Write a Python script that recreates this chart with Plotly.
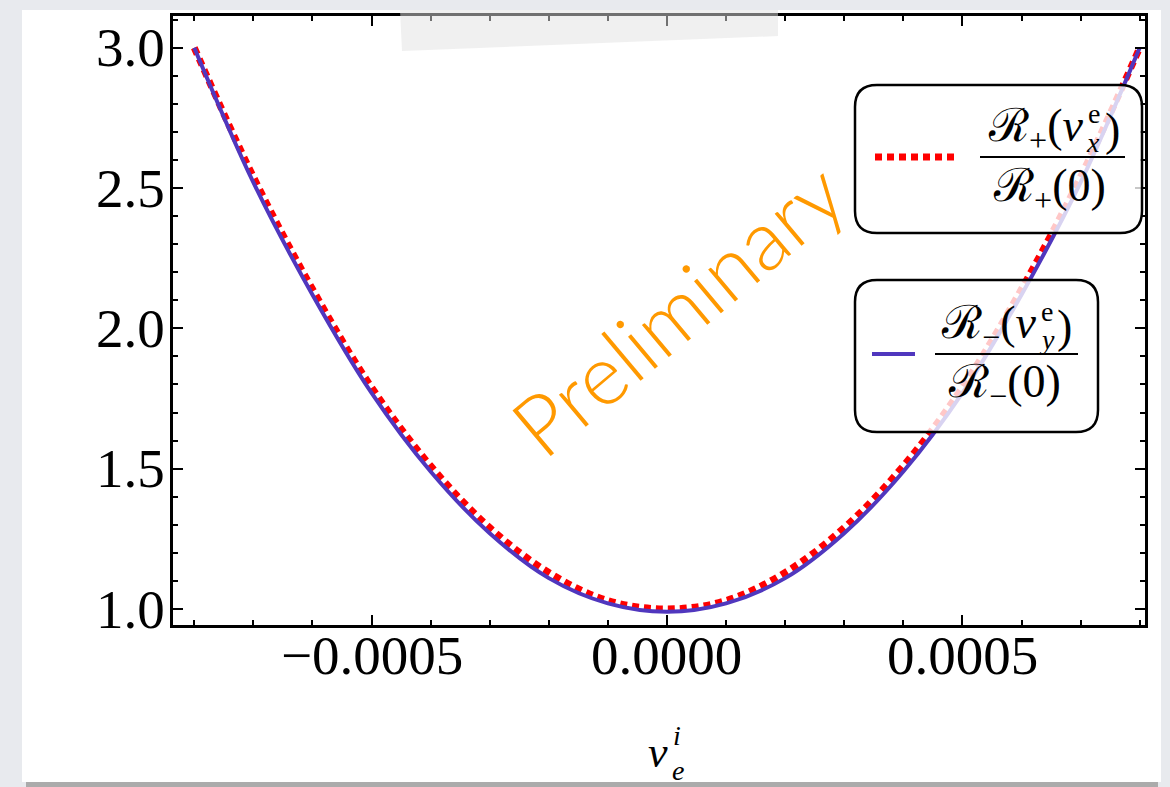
import plotly.graph_objects as go

# Normalised rates versus the electron velocity component
v_e = [-0.0008, -0.0007, -0.0006, -0.0005, -0.0004, -0.0003, -0.0002, -0.0001, 0.0,
       0.0001, 0.0002, 0.0003, 0.0004, 0.0005, 0.0006, 0.0007, 0.0008]
ratio_plus = [3.00, 2.54, 2.14, 1.79, 1.51, 1.29, 1.13, 1.03, 1.00,
              1.03, 1.13, 1.29, 1.51, 1.79, 2.14, 2.54, 3.00]
ratio_minus = [3.00, 2.52, 2.12, 1.77, 1.49, 1.27, 1.11, 1.02, 0.99,
               1.02, 1.11, 1.27, 1.49, 1.77, 2.12, 2.52, 3.00]

x_ticks = [-0.0005, 0.0, 0.0005]
y_ticks = [1.0, 1.5, 2.0, 2.5, 3.0]

W, H = 1170, 787
L, R, T, B = 173, 1145, 16, 625
RED = "#ff0000"
BLUE = "#5037be"
SERIF = "Liberation Serif, DejaVu Serif, serif"
TICK_SIZE = 55


def px(x):
    return (x - L) / (R - L)


def py(y):
    return (B - y) / (B - T)


def rounded_box(x0, y0, x1, y1, r):
    X0, X1 = px(x0), px(x1)
    Y0, Y1 = py(y0), py(y1)
    rx, ry = r / (R - L), r / (B - T)
    return (f"M {X0 + rx},{Y0} L {X1 - rx},{Y0} Q {X1},{Y0} {X1},{Y0 - ry} "
            f"L {X1},{Y1 + ry} Q {X1},{Y1} {X1 - rx},{Y1} "
            f"L {X0 + rx},{Y1} Q {X0},{Y1} {X0},{Y1 + ry} "
            f"L {X0},{Y0 - ry} Q {X0},{Y0} {X0 + rx},{Y0} Z")


fig = go.Figure()
fig.add_trace(go.Scatter(x=v_e, y=ratio_plus, mode="lines",
                         line=dict(color=RED, width=7, dash="7px,5px", shape="spline"),
                         showlegend=False))
fig.add_trace(go.Scatter(x=v_e, y=ratio_minus, mode="lines",
                         line=dict(color=BLUE, width=4, shape="spline"),
                         showlegend=False))

shapes = []
# white slide card on the grey page, with a soft bottom shadow
shapes.append(dict(type="rect", xref="paper", yref="paper", layer="below",
                   x0=px(22), x1=px(1161), y0=py(782), y1=py(10),
                   fillcolor="white", line=dict(width=0)))
shapes.append(dict(type="rect", xref="paper", yref="paper", layer="below",
                   x0=px(26), x1=px(1158), y0=py(787), y1=py(782),
                   fillcolor="#ababab", line=dict(width=0)))
# translucent strip of tape over the top frame
shapes.append(dict(type="path", xref="paper", yref="paper", layer="above",
                   path=(f"M {px(400)},{py(10)} L {px(778)},{py(10)} "
                         f"L {px(778)},{py(36)} L {px(402)},{py(51)} Z"),
                   fillcolor="rgba(226,226,226,0.5)", line=dict(width=0)))
# legend boxes
for box in [(855, 85, 1142, 233), (855, 280, 1098, 432)]:
    shapes.append(dict(type="path", xref="paper", yref="paper", layer="above",
                       path=rounded_box(*box, 22),
                       fillcolor="rgba(255,255,255,0.78)",
                       line=dict(color="black", width=2.5)))
# legend samples
shapes.append(dict(type="line", xref="paper", yref="paper", layer="above",
                   x0=px(875), x1=px(958), y0=py(157), y1=py(157),
                   line=dict(color=RED, width=7, dash="7px,5px")))
shapes.append(dict(type="line", xref="paper", yref="paper", layer="above",
                   x0=px(872), x1=px(915), y0=py(354), y1=py(354),
                   line=dict(color=BLUE, width=4)))
# fraction bars
shapes.append(dict(type="line", xref="paper", yref="paper", layer="above",
                   x0=px(980), x1=px(1125), y0=py(157), y1=py(157),
                   line=dict(color="black", width=2)))
shapes.append(dict(type="line", xref="paper", yref="paper", layer="above",
                   x0=px(935), x1=px(1078), y0=py(354), y1=py(354),
                   line=dict(color="black", width=2)))

annotations = []


def text(x, y, s, size, anchor="center", color="black", family=SERIF, angle=0, weight=None):
    f = dict(family=family, size=size, color=color)
    if weight is not None:
        f["weight"] = weight
    annotations.append(dict(x=px(x), y=py(y), xref="paper", yref="paper", text=s,
                            showarrow=False, xanchor=anchor, yanchor="middle",
                            font=f, textangle=angle))


# tick labels placed on the data axes
for v in x_ticks:
    annotations.append(dict(x=v, xref="x", y=py(655), yref="paper",
                            text=f"{v:.4f}".replace("-", "−"), showarrow=False,
                            xanchor="center", yanchor="middle",
                            font=dict(family=SERIF, size=TICK_SIZE, color="black")))
for v in y_ticks:
    annotations.append(dict(x=px(167), xref="paper", y=v, yref="y",
                            text=f"{v:.1f}", showarrow=False,
                            xanchor="right", yanchor="middle",
                            font=dict(family=SERIF, size=TICK_SIZE, color="black")))

# legend entry 1: R+(v_x^e) / R+(0)
text(1085, 129, "ℛ<sub>+</sub>(<i>v</i>", 46, anchor="right")
text(1086, 113, "e", 28, anchor="left")
text(1084, 142, "<i>x</i>", 28, anchor="left")
text(1103, 129, ")", 46, anchor="left")
text(1049, 189, "ℛ<sub>+</sub>(0)", 46)
# legend entry 2: R-(v_y^e) / R-(0)
text(1038, 326, "ℛ<sub>−</sub>(<i>v</i>", 46, anchor="right")
text(1039, 311, "e", 28, anchor="left")
text(1037, 339, "<i>y</i>", 28, anchor="left")
text(1055, 326, ")", 46, anchor="left")
text(1004, 385, "ℛ<sub>−</sub>(0)", 46)
# axis title v_e^i
text(658, 752, "<i>v</i>", 44)
text(671, 735, "<i>i</i>", 28, anchor="left")
text(670, 770, "<i>e</i>", 28, anchor="left")
# watermark
text(676, 308, "Preliminary", 84, color="#ff9900",
     family="Lato, Open Sans, sans-serif", angle=-40, weight=300)

axis_common = dict(showline=True, linecolor="black", linewidth=3, mirror="ticks",
                   ticks="inside", ticklen=10, tickwidth=2, tickcolor="black",
                   showgrid=False, zeroline=False, showticklabels=False)

fig.update_xaxes(range=[-0.000836, 0.000809], tickvals=x_ticks,
                 minor=dict(dtick=0.0001, tick0=0, ticks="inside", ticklen=5,
                            tickwidth=2, tickcolor="black"),
                 **axis_common)
fig.update_yaxes(range=[0.943, 3.113], tickvals=y_ticks,
                 minor=dict(dtick=0.1, tick0=0, ticks="inside", ticklen=5,
                            tickwidth=2, tickcolor="black"),
                 **axis_common)

fig.update_layout(width=W, height=H, margin=dict(l=L, r=W - R, t=T, b=H - B),
                  paper_bgcolor="#e8eaee", plot_bgcolor="white",
                  shapes=shapes, annotations=annotations, showlegend=False)

fig.write_html("out.html")
